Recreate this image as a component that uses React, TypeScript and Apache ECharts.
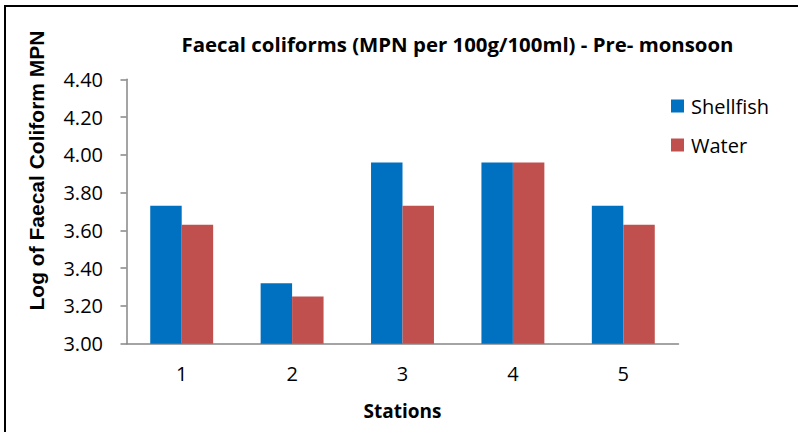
import React, { useEffect, useRef } from "react";
import * as echarts from "echarts";

const stations = ["1", "2", "3", "4", "5"];
const shellfish = [3.73, 3.32, 3.96, 3.96, 3.73];
const water = [3.63, 3.25, 3.73, 3.96, 3.63];
const titleText = "Faecal coliforms (MPN per 100g/100ml) - Pre- monsoon";
const yTitle = "Log of Faecal Coliform MPN";
const xTitle = "Stations";

const CAL = "'Open Sans', 'Noto Sans', sans-serif";

export default function App() {
  const ref = useRef<HTMLDivElement>(null);
  useEffect(() => {
    if (!ref.current) return;
    const chart = echarts.init(ref.current, undefined, { renderer: "svg" });
    chart.setOption({
      animation: false,
      backgroundColor: "#ffffff",
      title: {
        text: titleText,
        left: 452.5,
        top: 28.5,
        textAlign: "center",
        textStyle: { fontFamily: CAL, fontWeight: "bold", fontSize: 20.4, color: "#000" },
      },
      legend: {
        orient: "vertical",
        left: 671,
        top: 96,
        padding: 0,
        itemWidth: 13,
        itemHeight: 13,
        itemGap: 19,
        icon: "rect",
        textStyle: { fontFamily: CAL, fontSize: 20, color: "#000", padding: [0, 0, 0, 2] },
        data: ["Shellfish", "Water"],
      },
      grid: { left: 126.5, right: 119.5, top: 79.3, bottom: 88.3, containLabel: false },
      xAxis: {
        type: "category",
        data: stations,
        name: xTitle,
        nameLocation: "middle",
        nameGap: 58,
        nameTextStyle: { fontFamily: CAL, fontWeight: "bold", fontSize: 19, color: "#000" },
        axisLine: { lineStyle: { color: "#868686", width: 1.5 } },
        axisTick: { length: 6, lineStyle: { color: "#868686", width: 1.5 } },
        axisLabel: { margin: 20, fontFamily: CAL, fontSize: 20, color: "#000" },
      },
      yAxis: {
        type: "value",
        min: 3,
        max: 4.4,
        interval: 0.2,
        axisLine: { show: true, lineStyle: { color: "#868686", width: 1.5 } },
        axisTick: { show: true, length: 6, lineStyle: { color: "#868686", width: 1.5 } },
        splitLine: { show: false },
        axisLabel: {
          margin: 23.5,
          fontFamily: CAL,
          fontSize: 20,
          color: "#000",
          formatter: (v: number) => v.toFixed(2),
        },
      },
      series: [
        {
          name: "Shellfish",
          type: "bar",
          data: shellfish,
          barGap: "0%",
          barCategoryGap: "43%",
          itemStyle: { color: "#0070C0" },
        },
        {
          name: "Water",
          type: "bar",
          data: water,
          itemStyle: { color: "#C0504D" },
        },
      ],
      graphic: [
        {
          type: "text",
          x: 36,
          y: 170.5,
          rotation: Math.PI / 2,
          style: {
            text: yTitle,
            fontFamily: "'Liberation Sans', Arial, sans-serif",
            fontWeight: "bold",
            fontSize: 21,
            fill: "#000",
            textAlign: "center",
            textVerticalAlign: "middle",
          },
        },
        {
          type: "line",
          shape: { x1: 5, y1: 6, x2: 5, y2: 432 },
          style: { stroke: "#000", lineWidth: 2 },
        },
        {
          type: "line",
          shape: { x1: 4, y1: 6, x2: 798, y2: 6 },
          style: { stroke: "#000", lineWidth: 2 },
        },
      ],
    });
    return () => chart.dispose();
  }, []);
  return <div ref={ref} style={{ width: 798, height: 432, position: "fixed", left: 0, top: 0 }} />;
}
